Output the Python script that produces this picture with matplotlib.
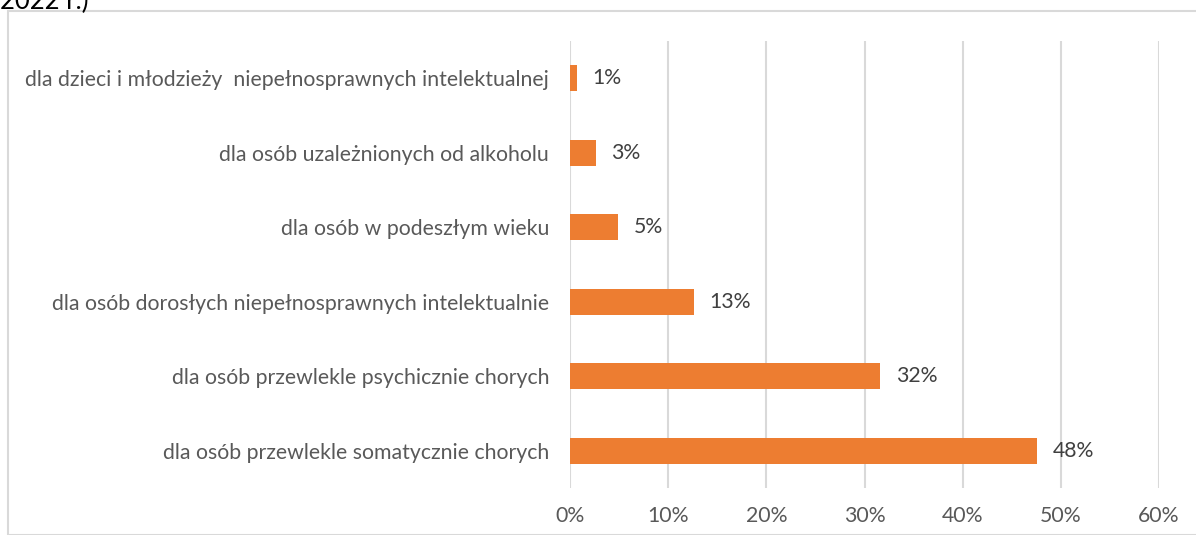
import matplotlib.pyplot as plt
from matplotlib.patches import Rectangle

categories = [
    'dla osób przewlekle somatycznie chorych',
    'dla osób przewlekle psychicznie chorych',
    'dla osób dorosłych niepełnosprawnych intelektualnie',
    'dla osób w podeszłym wieku',
    'dla osób uzależnionych od alkoholu',
    'dla dzieci i młodzieży  niepełnosprawnych intelektualnej',
]
values = [47.6, 31.6, 12.6, 4.9, 2.6, 0.7]
xticks = [0, 10, 20, 30, 40, 50, 60]

plt.rcParams['font.family'] = ['Lato', 'DejaVu Sans']
text_color = '#595959'
grid_color = '#d9d9d9'
bar_color = '#ED7D31'

W, H = 1196, 535
fig = plt.figure(figsize=(W / 100, H / 100), dpi=100)
ax = fig.add_axes([570 / W, 1 - 488 / H, (1159 - 570) / W, (488 - 41) / H])

ypos = range(len(categories))
ax.barh(ypos, values, height=0.35, color=bar_color, zorder=3)
for y, v in zip(ypos, values):
    ax.text(v + 1.6, y, f'{v:.0f}%', va='center', ha='left',
            fontsize=15.3, color='#404040')

ax.set_xlim(0, 60)
ax.set_ylim(-0.5, len(categories) - 0.5)
ax.set_xticks(xticks)
ax.set_xticklabels([f'{t}%' for t in xticks])
ax.set_yticks(list(ypos))
ax.set_yticklabels(categories)
ax.tick_params(axis='both', length=0, labelsize=15.3, labelcolor=text_color)
ax.tick_params(axis='y', pad=15)
ax.tick_params(axis='x', pad=13)
ax.grid(axis='x', color=grid_color, linewidth=1.5, zorder=0)
for s in ax.spines.values():
    s.set_visible(False)

# outer chart border (partly cut off by the image edges)
fig.patches.append(Rectangle((8 / W, 0), 2, 1 - 11 / H, transform=fig.transFigure,
                             fill=False, edgecolor=grid_color, linewidth=1.5))
fig.text(0, 1 - 9 / H, '2022 r.)', fontsize=18.5, color='black', va='baseline', ha='left')

fig.savefig('out.png', dpi=100)
